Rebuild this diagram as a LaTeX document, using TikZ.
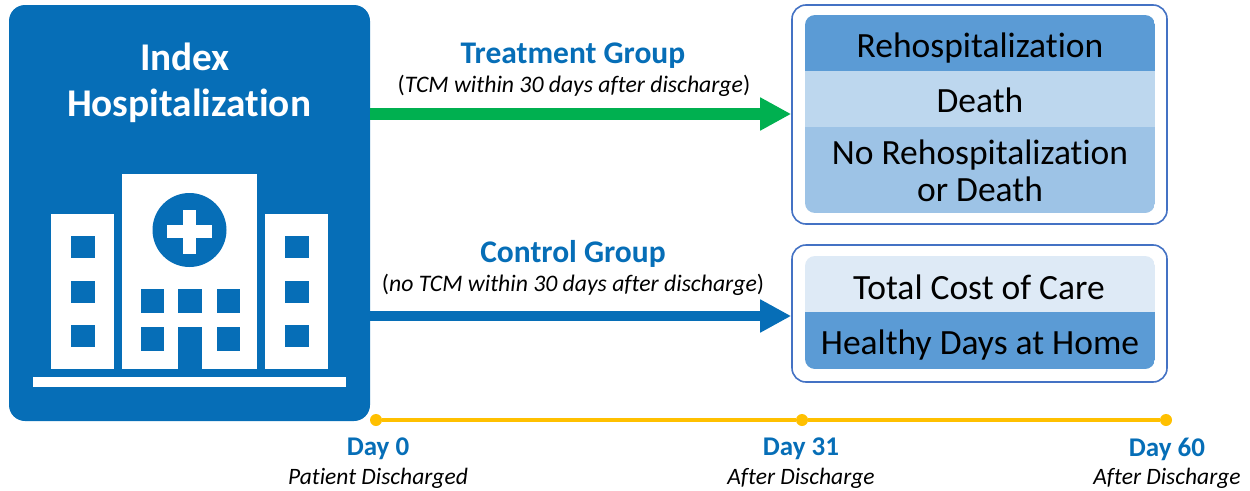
\documentclass[tikz,border=0pt]{standalone}
\usepackage{fontspec}
\setmainfont[Ligatures=CommonOff]{Carlito}
\usetikzlibrary{arrows.meta}
\definecolor{hblue}{HTML}{066EB7}
\definecolor{hgreen}{HTML}{00B050}
\definecolor{hgold}{HTML}{FFC000}
\definecolor{rowA}{HTML}{5B9BD5}
\definecolor{rowB}{HTML}{BDD7EE}
\definecolor{rowC}{HTML}{9DC3E6}
\definecolor{rowD}{HTML}{DEEAF6}
\definecolor{frame}{HTML}{4472C4}
\newcommand{\fs}[1]{\fontsize{#1}{#1}\selectfont}
\tikzset{
  x=1pt,y=-1pt,
  txt/.style={inner sep=0pt,anchor=center,align=center},
  rowtext/.style={txt,text=black,font=\fs{35.5}},
  title/.style={txt,text=white,font=\fs{39.3}\bfseries},
  group/.style={txt,text=hblue,font=\fs{31.5}\bfseries},
  note/.style={txt,text=black,font=\fs{23.7}},
  day/.style={txt,text=hblue,font=\fs{27}\bfseries},
  after/.style={txt,text=black,font=\fs{23.5}\itshape},
  outerbox/.style={draw=frame,line width=1.6pt,fill=white,rounded corners=14pt},
  white part/.style={fill=white},
  blue part/.style={fill=hblue},
  dot/.style={circle,fill=hgold,minimum size=12pt,inner sep=0pt},
  conn/.style={line width=#1},
}
\begin{document}
\begin{tikzpicture}
\useasboundingbox (0,0) rectangle (1250,490);
% index hospitalization block
\fill[hblue,rounded corners=16pt] (9,5) rectangle (370,421);
\node[title] (t1) at (185,57) {Index};
\node[title] (t2) at (189,106) {Hospitalization};
% hospital icon
\fill[white part] (51,214) rectangle (114,369);
\fill[white part] (122,174) rectangle (257,369);
\fill[white part] (265,214) rectangle (328,369);
\fill[white part] (33,377) rectangle (346,387);
\fill[blue part] (189.5,230) circle (37);
\fill[white part] (167,225) rectangle (211.5,238);
\fill[white part] (183,209.5) rectangle (196,253.5);
\foreach \y in {236,281,325}{
  \fill[blue part] (71,\y) rectangle ++(24,22);
  \fill[blue part] (284.5,\y) rectangle ++(24,22);
}
\foreach \x in {140.5,178,216.5}{
  \fill[blue part] (\x,289) rectangle ++(23.5,24);
}
\fill[blue part] (140.5,327) rectangle ++(23.5,24);
\fill[blue part] (216.5,327) rectangle ++(23.5,24);
\fill[blue part] (178,327) rectangle (202,369);
% outcome boxes
\node[outerbox,draw,minimum width=375pt,minimum height=219pt,inner sep=0pt] (top) at (979.5,114.5) {};
\node[outerbox,draw,minimum width=375pt,minimum height=137pt,inner sep=0pt] (bottom) at (979.5,313.5) {};
\begin{scope}
\clip[rounded corners=10pt] (805,15) rectangle (1155,213);
\fill[rowA] (805,15) rectangle (1155,71);
\fill[rowB] (805,71) rectangle (1155,127);
\fill[rowC] (805,127) rectangle (1155,213);
\end{scope}
\begin{scope}
\clip[rounded corners=10pt] (805,256) rectangle (1155,369);
\fill[rowD] (805,256) rectangle (1155,312);
\fill[rowA] (805,312) rectangle (1155,369);
\end{scope}
\node[rowtext] (r1) at (980,48) {Rehospitalization};
\node[rowtext] (r2) at (980,100) {Death};
\node[rowtext] (r3) at (980,155) {No Rehospitalization};
\node[rowtext] (r4) at (980,189) {or Death};
\node[rowtext] (r5) at (979,287) {Total Cost of Care};
\node[rowtext] (r6) at (980,345) {Healthy Days at Home};
% arrow labels
\node[group] (g1) at (573,56) {Treatment Group};
\node[note] (n1) at (574,86) {(\textit{TCM within 30 days after discharge})};
\node[group] (g2) at (573,254) {Control Group};
\node[note] (n2) at (573,285) {(\textit{no TCM within 30 days after discharge})};
% arrows
\coordinate (a1s) at (370,114);
\coordinate (a2s) at (370,316);
\draw[hgreen,conn=12pt,-{Triangle[length=31pt,width=31pt]}] (a1s) -- (top.west |- a1s);
\draw[hblue,conn=10pt,-{Triangle[length=31pt,width=31pt]}] (a2s) -- (bottom.west |- a2s);
% timeline
\node[dot] (d0) at (376,420) {};
\node[dot] (d1) at (802,420) {};
\node[dot] (d2) at (1166,420) {};
\draw[hgold,line width=4pt] (d0) -- (d1);
\draw[hgold,line width=4pt] (d1) -- (d2);
\node[day] (l0) at (378,449) {Day 0};
\node[day] (l1) at (801,449) {Day 31};
\node[day] (l2) at (1167,449) {Day 60};
\node[after] (s0) at (378,478) {Patient Discharged};
\node[after] (s1) at (801,478) {After Discharge};
\node[after] (s2) at (1167,478) {After Discharge};
\end{tikzpicture}
\end{document}
